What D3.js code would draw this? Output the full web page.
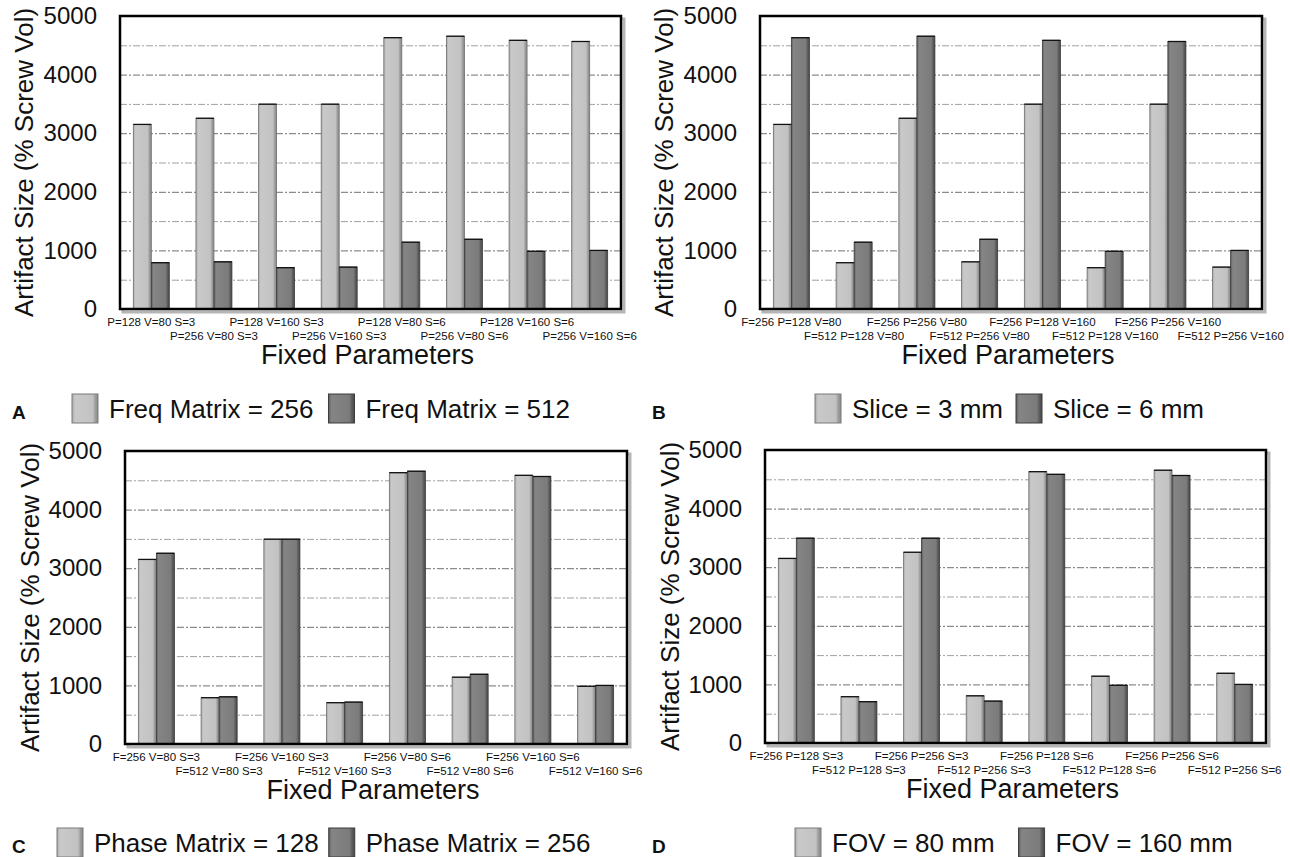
<!DOCTYPE html>
<html>
<head>
<meta charset="utf-8">
<script src="https://cdn.jsdelivr.net/npm/d3@7"></script>
<style>
  body { margin: 0; background: #fff; }
  svg { display: block; font-family: "Liberation Sans", Arial, sans-serif; }
</style>
</head>
<body>
<svg id="fig" width="1290" height="857"></svg>
<script>
// y axis ticks shared by all four panels
var yTicks = [0, 1000, 2000, 3000, 4000, 5000];
var gridTicks = [500, 1000, 1500, 2000, 2500, 3000, 3500, 4000, 4500];

// A - frequency matrix
var catsA = ["P=128 V=80 S=3", "P=256 V=80 S=3", "P=128 V=160 S=3", "P=256 V=160 S=3",
             "P=128 V=80 S=6", "P=256 V=80 S=6", "P=128 V=160 S=6", "P=256 V=160 S=6"];
var freq256 = [3150, 3255, 3495, 3495, 4630, 4655, 4585, 4565];
var freq512 = [790, 805, 705, 715, 1140, 1190, 985, 1000];

// B - slice thickness
var catsB = ["F=256 P=128 V=80", "F=512 P=128 V=80", "F=256 P=256 V=80", "F=512 P=256 V=80",
             "F=256 P=128 V=160", "F=512 P=128 V=160", "F=256 P=256 V=160", "F=512 P=256 V=160"];
var slice3 = [3150, 790, 3255, 805, 3495, 705, 3495, 715];
var slice6 = [4630, 1140, 4655, 1190, 4585, 985, 4565, 1000];

// C - phase matrix
var catsC = ["F=256 V=80 S=3", "F=512 V=80 S=3", "F=256 V=160 S=3", "F=512 V=160 S=3",
             "F=256 V=80 S=6", "F=512 V=80 S=6", "F=256 V=160 S=6", "F=512 V=160 S=6"];
var phase128 = [3150, 790, 3495, 705, 4630, 1140, 4585, 985];
var phase256 = [3255, 805, 3495, 715, 4655, 1190, 4565, 1000];

// D - field of view
var catsD = ["F=256 P=128 S=3", "F=512 P=128 S=3", "F=256 P=256 S=3", "F=512 P=256 S=3",
             "F=256 P=128 S=6", "F=512 P=128 S=6", "F=256 P=256 S=6", "F=512 P=256 S=6"];
var fov80 = [3150, 790, 3255, 805, 4630, 1140, 4655, 1190];
var fov160 = [3495, 705, 3495, 715, 4585, 985, 4565, 1000];

var svg = d3.select("#fig");

// bar shading, a little 3d look like the old excel charts
var defs = svg.append("defs");
function makeGrad(id, stops) {
  var g = defs.append("linearGradient").attr("id", id)
    .attr("x1", "0%").attr("x2", "100%").attr("y1", "0%").attr("y2", "0%");
  stops.forEach(function(s) {
    g.append("stop").attr("offset", s[0]).attr("stop-color", s[1]);
  });
}
makeGrad("gLight", [["0%", "#a9a9a9"], ["12%", "#c9c9c9"], ["80%", "#c2c2c2"], ["90%", "#9c9c9c"], ["100%", "#8a8a8a"]]);
makeGrad("gDark", [["0%", "#5e5e5e"], ["12%", "#858585"], ["80%", "#7b7b7b"], ["90%", "#5c5c5c"], ["100%", "#4a4a4a"]]);
var fills = ["url(#gLight)", "url(#gDark)"];

var panels = [
  { letter: "A", cats: catsA, series: [freq256, freq512], names: ["Freq Matrix = 256", "Freq Matrix = 512"],
    left: 120, right: 621, top: 16, bottom: 309, tickEnd: 97, titleX: 24,
    legX: 72, legGap: 15, legY: 418, letterX: 12 },
  { letter: "B", cats: catsB, series: [slice3, slice6], names: ["Slice = 3 mm", "Slice = 6 mm"],
    left: 760, right: 1262, top: 16, bottom: 309, tickEnd: 737, titleX: 664,
    legX: 815, legGap: 13, legY: 418, letterX: 652 },
  { letter: "C", cats: catsC, series: [phase128, phase256], names: ["Phase Matrix = 128", "Phase Matrix = 256"],
    left: 125, right: 627, top: 451, bottom: 744, tickEnd: 102, titleX: 30,
    legX: 57, legGap: 10, legY: 852, letterX: 12 },
  { letter: "D", cats: catsD, series: [fov80, fov160], names: ["FOV = 80 mm", "FOV = 160 mm"],
    left: 765, right: 1266, top: 450, bottom: 743, tickEnd: 742, titleX: 670,
    legX: 795, legGap: 24, legY: 852, letterX: 652 }
];

panels.forEach(drawPanel);

function drawPanel(p) {
  var g = svg.append("g");

  var y = d3.scaleLinear().domain([0, 5000]).range([p.bottom, p.top]);
  var x0 = d3.scaleBand().domain(p.cats).range([p.left, p.right]);
  var x1 = d3.scaleBand().domain([0, 1]).range([0, x0.bandwidth()])
    .paddingInner(0).paddingOuter(0.74);

  // frame shadow
  g.append("rect")
    .attr("x", p.left + 3).attr("y", p.top + 3)
    .attr("width", p.right - p.left).attr("height", p.bottom - p.top)
    .attr("fill", "none").attr("stroke", "#b5b5b5").attr("stroke-width", 3);
  g.append("rect")
    .attr("x", p.left).attr("y", p.top)
    .attr("width", p.right - p.left).attr("height", p.bottom - p.top)
    .attr("fill", "#fff");

  // grid lines every 500
  g.append("g")
    .attr("transform", "translate(" + p.left + ",0)")
    .call(d3.axisLeft(y).tickValues(gridTicks).tickSize(-(p.right - p.left)).tickFormat(""))
    .call(function(a) {
      a.select(".domain").remove();
      a.selectAll("line")
        .attr("stroke", function(d) { return d % 1000 === 0 ? "#707070" : "#a0a0a0"; })
        .attr("stroke-width", 1)
        .attr("stroke-dasharray", "7,2,2,2");
    });

  // bars
  var grp = g.selectAll(".grp").data(p.cats).enter().append("g")
    .attr("transform", function(d) { return "translate(" + x0(d) + ",0)"; });

  grp.selectAll("rect")
    .data(function(d, i) { return [0, 1].map(function(s) { return { s: s, v: p.series[s][i] }; }); })
    .enter().append("rect")
    .attr("x", function(d) { return x1(d.s); })
    .attr("y", function(d) { return y(d.v); })
    .attr("width", x1.bandwidth())
    .attr("height", function(d) { return y(0) - y(d.v); })
    .attr("fill", function(d) { return fills[d.s]; })
    .attr("stroke", function(d) { return d.s ? "#3c3c3c" : "#6e6e6e"; })
    .attr("stroke-width", 0.8);

  // black top edges
  grp.selectAll("line.top")
    .data(function(d, i) { return [0, 1].map(function(s) { return { s: s, v: p.series[s][i] }; }); })
    .enter().append("line")
    .attr("class", "top")
    .attr("x1", function(d) { return x1(d.s); })
    .attr("x2", function(d) { return x1(d.s) + x1.bandwidth(); })
    .attr("y1", function(d) { return y(d.v); })
    .attr("y2", function(d) { return y(d.v); })
    .attr("stroke", "#111").attr("stroke-width", 1.3);

  // frame
  g.append("rect")
    .attr("x", p.left).attr("y", p.top)
    .attr("width", p.right - p.left).attr("height", p.bottom - p.top)
    .attr("fill", "none").attr("stroke", "#000").attr("stroke-width", 2.5);

  // y tick labels
  g.append("g")
    .attr("transform", "translate(" + p.left + ",0)")
    .call(d3.axisLeft(y).tickValues(yTicks).tickSize(0).tickPadding(p.left - p.tickEnd).tickFormat(d3.format("d")))
    .call(function(a) {
      a.select(".domain").remove();
      a.selectAll("text")
        .attr("font-size", 24).attr("font-family", "Liberation Sans, Arial, sans-serif")
        .attr("fill", "#111");
    });

  // category labels, alternating in two rows
  g.selectAll(".cat").data(p.cats).enter().append("text")
    .attr("x", function(d) { return x0(d) + x0.bandwidth() / 2; })
    .attr("y", function(d, i) { return p.bottom + (i % 2 === 0 ? 17 : 31); })
    .attr("text-anchor", "middle")
    .attr("font-size", 11.5)
    .attr("fill", "#111")
    .text(function(d) { return d; });

  // axis titles
  g.append("text")
    .attr("x", (p.left + p.right) / 2 - 3)
    .attr("y", p.bottom + 55)
    .attr("text-anchor", "middle")
    .attr("font-size", 27)
    .attr("fill", "#111")
    .text("Fixed Parameters");

  g.append("text")
    .attr("transform", "translate(" + (p.titleX + 9) + "," + ((p.top + p.bottom) / 2) + ") rotate(-90)")
    .attr("text-anchor", "middle")
    .attr("font-size", 26)
    .attr("fill", "#111")
    .text("Artifact Size (% Screw Vol)");

  // panel letter
  g.append("text")
    .attr("x", p.letterX).attr("y", p.legY + 1)
    .attr("font-size", 19).attr("font-weight", "bold")
    .attr("fill", "#111")
    .text(p.letter);

  // legend
  var lx = p.legX;
  p.names.forEach(function(name, s) {
    g.append("rect")
      .attr("x", lx).attr("y", p.legY - 24)
      .attr("width", 26).attr("height", 29)
      .attr("fill", fills[s])
      .attr("stroke", s ? "#3c3c3c" : "#7a7a7a").attr("stroke-width", 1);
    var t = g.append("text")
      .attr("x", lx + 37).attr("y", p.legY)
      .attr("font-size", 26).attr("fill", "#111")
      .text(name);
    lx = lx + 37 + t.node().getComputedTextLength() + p.legGap;
  });
}
</script>
</body>
</html>
